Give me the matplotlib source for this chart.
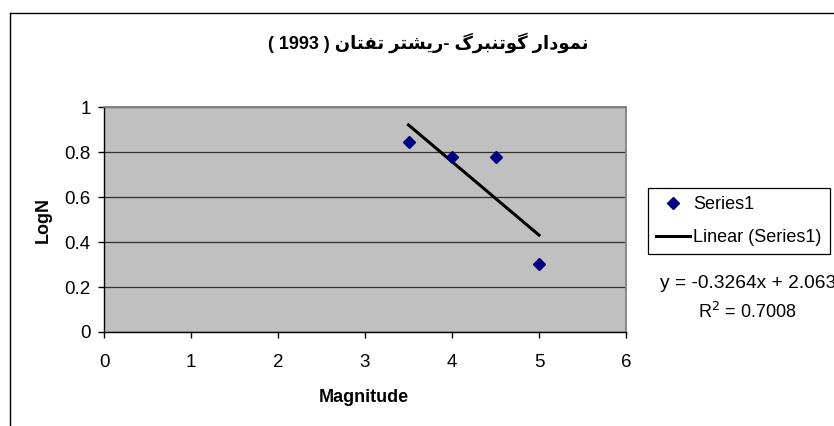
import matplotlib
matplotlib.use('Agg')
import matplotlib.pyplot as plt
from matplotlib.lines import Line2D
import numpy as np

plt.rcParams['font.family'] = ['Liberation Sans', 'DejaVu Sans']

# data
magnitude = [3.5, 4.0, 4.5, 5.0]
log_n = [0.845, 0.778, 0.778, 0.301]
x_ticks = [0, 1, 2, 3, 4, 5, 6]
y_ticks = [0, 0.2, 0.4, 0.6, 0.8, 1]
title_words = ['نمودار', 'گوتنبرگ', '-ریشتر', 'تفتان']
title_year = '( 1993 )'

# arabic presentation forms: isolated, final, initial, medial
forms = {
    'ن': 'ﻥﻦﻧﻨ', 'م': 'ﻡﻢﻣﻤ', 'ت': 'ﺕﺖﺗﺘ', 'ب': 'ﺏﺐﺑﺒ',
    'گ': 'ﮒﮓﮔﮕ', 'ی': 'ﯼﯽﯾﯿ', 'ش': 'ﺵﺶﺷﺸ', 'ف': 'ﻑﻒﻓﻔ',
    'و': 'ﻭﻮ', 'د': 'ﺩﺪ', 'ا': 'ﺍﺎ', 'ر': 'ﺭﺮ',
}

def shape(word):
    out = []
    for i, ch in enumerate(word):
        if ch not in forms:
            out.append(ch)
            continue
        prev = word[i-1] if i > 0 else ''
        nxt = word[i+1] if i < len(word) - 1 else ''
        jp = prev in forms and len(forms[prev]) == 4
        jn = len(forms[ch]) == 4 and nxt in forms
        f = forms[ch]
        if jp and jn:
            out.append(f[3])
        elif jp:
            out.append(f[1])
        elif jn:
            out.append(f[2])
        else:
            out.append(f[0])
    # visual order, left to right
    return ''.join(reversed(out))

vis = []
for w in title_words:
    if w.startswith('-'):
        vis.append(shape(w[1:]) + '-')
    else:
        vis.append(shape(w))
title_text = title_year + ' ' + ' '.join(reversed(vis))

W, H = 834, 426
fig = plt.figure(figsize=(W / 100, H / 100), dpi=100)
ax = fig.add_axes([104 / W, 1 - 332 / H, 522 / W, 225 / H])
ax.set_facecolor('#c0c0c0')

# linear trendline
coef = np.polyfit(magnitude, log_n, 1)
xf = np.array([min(magnitude), max(magnitude)])
ax.plot(xf, np.polyval(coef, xf), color='black', lw=2.2, zorder=3)
ax.plot(magnitude, log_n, ls='none', marker='D', ms=6.5, color='#000080', zorder=4)

ax.set_xlim(0, 6)
ax.set_ylim(0, 1)
ax.set_xticks(x_ticks)
ax.set_yticks(y_ticks)
ax.set_xticklabels([str(t) for t in x_ticks])
ax.set_yticklabels(['0', '0.2', '0.4', '0.6', '0.8', '1'])
ax.yaxis.grid(True, color='#303030', lw=0.9)
ax.set_axisbelow(True)
ax.tick_params(axis='both', direction='out', length=4.5, width=1, color='black', labelsize=13.5)
ax.tick_params(axis='x', pad=11)
ax.tick_params(axis='y', pad=5)
for s in ['top', 'right']:
    ax.spines[s].set_color('#808080')
    ax.spines[s].set_linewidth(1.3)
for s in ['left', 'bottom']:
    ax.spines[s].set_color('black')
    ax.spines[s].set_linewidth(1)

fig.text(364 / W, 1 - 398 / H, 'Magnitude', ha='center', va='center', fontsize=13, fontweight='bold')
fig.text(43 / W, 1 - 220 / H, 'LogN', ha='center', va='center', rotation=90, fontsize=13, fontweight='bold')
fig.text(428 / W, 1 - 43 / H, title_text, ha='center', va='center', fontsize=13, fontweight='bold')

handles = [
    Line2D([], [], ls='none', marker='D', ms=6, color='#000080'),
    Line2D([], [], color='black', lw=2.2),
]
leg = fig.legend(handles, ['Series1', 'Linear (Series1)'], loc='upper left',
                 bbox_to_anchor=(648 / W, 1 - 188 / H), borderaxespad=0, fontsize=13,
                 frameon=True, fancybox=False, edgecolor='black', handlelength=1.9,
                 handletextpad=0.15, borderpad=0.45, labelspacing=0.9, framealpha=1)
leg.get_frame().set_linewidth(0.9)

fig.text(660 / W, 1 - 283 / H, 'y = -0.3264x + 2.063', ha='left', va='center', fontsize=13.8)
fig.text(698 / W, 1 - 312 / H, 'R$^2$ = 0.7008', ha='left', va='center', fontsize=13)

# chart frame
fig.add_artist(Line2D([10 / W, 1], [1 - 13 / H, 1 - 13 / H], color='black', lw=1))
fig.add_artist(Line2D([10 / W, 10 / W], [0, 1 - 13 / H], color='black', lw=1))

fig.savefig('out.png', dpi=100)
